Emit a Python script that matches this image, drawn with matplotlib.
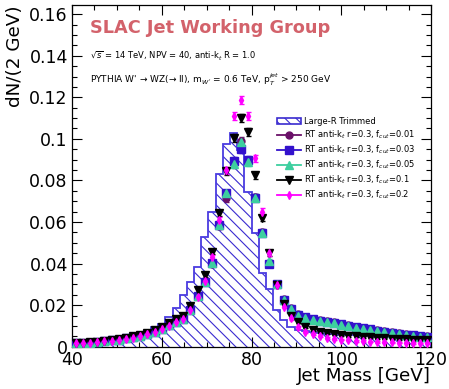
import matplotlib
matplotlib.use('Agg')
import matplotlib.pyplot as plt
import numpy as np
from matplotlib.patches import Patch
from matplotlib.lines import Line2D

plt.rcParams['font.family'] = ['DejaVu Sans']
plt.rcParams['hatch.linewidth'] = 0.8

# 50 bins of 1.6 GeV between 40 and 120 GeV
edges = np.linspace(40, 120, 51)
centers = 0.5 * (edges[:-1] + edges[1:])

# Large-R trimmed histogram
trimmed = [0.0022, 0.0024, 0.0027, 0.0030, 0.0032, 0.0035, 0.0040, 0.0047, 0.0055, 0.0065,
           0.0078, 0.0094, 0.0110, 0.0142, 0.0188, 0.0247, 0.0312, 0.0384, 0.0526, 0.0648,
           0.0833, 0.0973, 0.1026, 0.0945, 0.0746, 0.0548, 0.0356, 0.0276, 0.0177, 0.0128,
           0.0096, 0.0080, 0.0074, 0.0070, 0.0066, 0.0063, 0.0060, 0.0058, 0.0056, 0.0054,
           0.0052, 0.0050, 0.0049, 0.0047, 0.0046, 0.0045, 0.0044, 0.0043, 0.0042, 0.0041]

# reclustered anti-kt r=0.3 with different fcut
rt_001 = [0.0017, 0.0019, 0.0021, 0.0024, 0.0027, 0.0031, 0.0035, 0.0041, 0.0047, 0.0054,
          0.0063, 0.0074, 0.0088, 0.0104, 0.0121, 0.0136, 0.0178, 0.0243, 0.0310, 0.0400,
          0.0580, 0.0714, 0.0880, 0.0990, 0.0895, 0.0720, 0.0550, 0.0398, 0.0302, 0.0228,
          0.0184, 0.0155, 0.0143, 0.0135, 0.0127, 0.0122, 0.0117, 0.0110, 0.0103, 0.0096,
          0.0091, 0.0086, 0.0080, 0.0075, 0.0070, 0.0064, 0.0060, 0.0056, 0.0053, 0.0051]
rt_003 = [0.0016, 0.0018, 0.0020, 0.0023, 0.0026, 0.0030, 0.0034, 0.0040, 0.0046, 0.0053,
          0.0062, 0.0073, 0.0087, 0.0103, 0.0120, 0.0135, 0.0177, 0.0244, 0.0313, 0.0404,
          0.0585, 0.0738, 0.0893, 0.0950, 0.0898, 0.0717, 0.0548, 0.0400, 0.0300, 0.0227,
          0.0182, 0.0153, 0.0141, 0.0133, 0.0125, 0.0120, 0.0115, 0.0108, 0.0101, 0.0094,
          0.0089, 0.0084, 0.0078, 0.0073, 0.0068, 0.0062, 0.0058, 0.0054, 0.0051, 0.0049]
rt_005 = [0.0016, 0.0018, 0.0020, 0.0023, 0.0026, 0.0030, 0.0034, 0.0040, 0.0046, 0.0053,
          0.0062, 0.0073, 0.0087, 0.0103, 0.0120, 0.0135, 0.0177, 0.0244, 0.0313, 0.0404,
          0.0585, 0.0738, 0.0877, 0.0986, 0.0890, 0.0717, 0.0548, 0.0410, 0.0300, 0.0225,
          0.0180, 0.0150, 0.0138, 0.0130, 0.0122, 0.0118, 0.0112, 0.0105, 0.0098, 0.0091,
          0.0086, 0.0081, 0.0075, 0.0070, 0.0065, 0.0059, 0.0055, 0.0051, 0.0048, 0.0046]
rt_01 = [0.0018, 0.0020, 0.0022, 0.0025, 0.0028, 0.0031, 0.0036, 0.0042, 0.0050, 0.0058,
         0.0068, 0.0080, 0.0095, 0.0112, 0.0134, 0.0150, 0.0196, 0.0275, 0.0347, 0.0457,
         0.0645, 0.0845, 0.1003, 0.1100, 0.1034, 0.0825, 0.0620, 0.0450, 0.0298, 0.0205,
         0.0150, 0.0118, 0.0095, 0.0082, 0.0073, 0.0066, 0.0061, 0.0057, 0.0053, 0.0050,
         0.0047, 0.0045, 0.0042, 0.0040, 0.0038, 0.0036, 0.0035, 0.0034, 0.0033, 0.0032]
rt_02 = [0.0016, 0.0018, 0.0020, 0.0023, 0.0026, 0.0029, 0.0033, 0.0038, 0.0044, 0.0051,
         0.0060, 0.0072, 0.0085, 0.0102, 0.0118, 0.0135, 0.0177, 0.0240, 0.0316, 0.0430,
         0.0610, 0.0850, 0.1110, 0.1187, 0.1110, 0.0906, 0.0650, 0.0449, 0.0297, 0.0192,
         0.0137, 0.0093, 0.0072, 0.0061, 0.0050, 0.0043, 0.0038, 0.0034, 0.0031, 0.0029,
         0.0027, 0.0025, 0.0023, 0.0022, 0.0021, 0.0020, 0.0019, 0.0018, 0.0017, 0.0016]

# statistical error per bin (same order as above)
stat_err = [0.0003, 0.0003, 0.0003, 0.0003, 0.0004, 0.0004, 0.0004, 0.0004, 0.0005, 0.0005,
            0.0005, 0.0006, 0.0006, 0.0007, 0.0007, 0.0008, 0.0009, 0.0010, 0.0011, 0.0013,
            0.0015, 0.0017, 0.0019, 0.0020, 0.0019, 0.0017, 0.0015, 0.0012, 0.0010, 0.0008,
            0.0007, 0.0006, 0.0005, 0.0005, 0.0005, 0.0004, 0.0004, 0.0004, 0.0004, 0.0004,
            0.0004, 0.0004, 0.0003, 0.0003, 0.0003, 0.0003, 0.0003, 0.0003, 0.0003, 0.0003]

hist_color = '#3a2bd0'
series = [
    (rt_001, '#6a1068', 'o', 5.0, '0.01'),
    (rt_003, '#3311cc', 's', 5.2, '0.03'),
    (rt_005, '#3dcf9f', '^', 5.4, '0.05'),
    (rt_01, 'black', 'v', 5.4, '0.1'),
    (rt_02, '#ff00ff', 'd', 4.0, '0.2'),
]

fig = plt.figure(figsize=(4.49, 3.89), dpi=100)
ax = fig.add_axes([0.1604, 0.1087, 0.7996, 0.8784])

# hatched histogram
vals = np.append(trimmed, trimmed[-1])
ax.fill_between(edges, vals, step='post', facecolor='white', edgecolor=hist_color,
                hatch='\\\\\\', linewidth=0, zorder=1)
ax.stairs(trimmed, edges, color='#4a3be0', linewidth=1.3, zorder=2)

for vals_s, col, mk, ms, lab in series:
    ax.errorbar(centers, vals_s, yerr=stat_err, fmt=mk, color=col, markersize=ms,
                elinewidth=1.0, capsize=1.8, capthick=1.0, linestyle='none', zorder=3)

ax.set_xlim(40, 120)
ax.set_ylim(0, 0.1644)
ax.set_xticks([40, 60, 80, 100, 120])
ax.set_xticks(np.arange(40, 121, 5), minor=True)
ax.set_yticks([0, 0.02, 0.04, 0.06, 0.08, 0.1, 0.12, 0.14, 0.16])
ax.set_yticklabels(['0', '0.02', '0.04', '0.06', '0.08', '0.1', '0.12', '0.14', '0.16'])
ax.set_yticks(np.arange(0, 0.1641, 0.005), minor=True)
ax.tick_params(which='both', direction='in', top=True, right=True, labelsize=12.5, width=0.8)
ax.tick_params(which='major', length=7, pad=3)
ax.tick_params(which='minor', length=3.5)
for s in ax.spines.values():
    s.set_linewidth(0.9)

ax.set_xlabel('Jet Mass [GeV]', fontsize=13.2, loc='right')
ax.xaxis.set_label_coords(1.0, -0.06)
ax.set_ylabel('dN/(2 GeV)', fontsize=13.2, loc='top')
ax.yaxis.set_label_coords(-0.135, 1.0)

ax.text(0.05, 0.933, 'SLAC Jet Working Group', transform=ax.transAxes, fontsize=12.8,
        fontweight='bold', color='#d3626b', va='center')
ax.text(0.05, 0.853, r'$\sqrt{s}$ = 14 TeV, NPV = 40, anti-k$_{t}$ R = 1.0',
        transform=ax.transAxes, fontsize=6.0, va='center')
ax.text(0.05, 0.78, "PYTHIA W' \u2192 WZ(\u2192 ll), m$_{W'}$ = 0.6 TeV, p$_{T}^{jet}$ > 250 GeV",
        transform=ax.transAxes, fontsize=6.5, va='center')

handles = [Patch(facecolor='white', edgecolor=hist_color, hatch='\\\\\\', linewidth=1.2)]
labels = ['Large-R Trimmed']
for vals_s, col, mk, ms, lab in series:
    handles.append(Line2D([], [], color=col, marker=mk, markersize=ms, linewidth=1.3))
    labels.append(r'RT anti-k$_{t}$ r=0.3, f$_{cut}$=' + lab)
ax.legend(handles, labels, loc='upper left', bbox_to_anchor=(0.57, 0.672), frameon=False,
          fontsize=6.0, handlelength=2.9, handletextpad=0.4, labelspacing=0.3,
          borderpad=0, borderaxespad=0)

fig.savefig('out.png', dpi=100)
